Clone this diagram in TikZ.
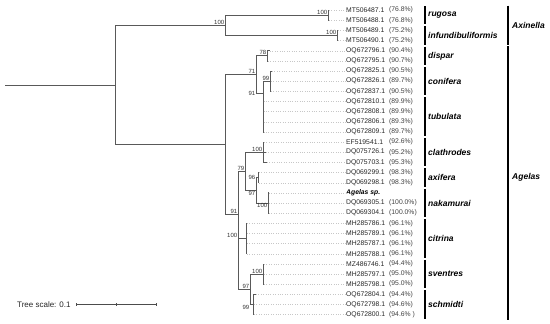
\documentclass[tikz,border=0pt]{standalone}
\usepackage{fontspec}
\setmainfont{Liberation Sans}
\usetikzlibrary{positioning}
\tikzset{
  branch/.style={draw=black!65, line width=0.8pt},
  leader/.style={draw=black!22, dotted, line width=0.4pt},
  leafid/.style={anchor=west, inner sep=0pt, font=\fontsize{6.8}{7}\selectfont, text=black!85},
  pct/.style={anchor=west, inner sep=0pt, font=\fontsize{6.8}{7}\selectfont, text=black!75},
  support/.style={anchor=south east, inner sep=0.6pt, font=\fontsize{6}{6}\selectfont, text=black!80},
  cladebar/.style={draw=black, line width=1.5pt},
  cladename/.style={anchor=west, inner sep=0pt, font=\fontsize{8.5}{9}\selectfont\bfseries\itshape},
  scaletick/.style={draw=black!70, line width=0.6pt}
}
\begin{document}
\begin{tikzpicture}[x=1pt, y=-10.15pt]
\useasboundingbox (0,-1.0) rectangle (550,30.823);
% internal nodes
\coordinate (root) at (5,7.375);
\coordinate (R) at (115,7.375);
\coordinate (Ax) at (225,1.5);
\coordinate (rug) at (328,0.5);
\coordinate (inf) at (337,2.5);
\coordinate (Ag) at (225,13.25);
\coordinate (n71) at (256,6.35);
\coordinate (dis) at (267,4.5);
\coordinate (n91a) at (263,8.2);
\coordinate (con) at (270,7);
\coordinate (n91b) at (238,20.15);
\coordinate (n79) at (245,15.875);
\coordinate (cla) at (263,14);
\coordinate (n97a) at (256,17.75);
\coordinate (axi) at (258,16.5);
\coordinate (nak) at (268,19);
\coordinate (cit) at (246,22.5);
\coordinate (n97b) at (250,27.5);
\coordinate (sve) at (263,26);
\coordinate (sch) at (253,29);

% leaves
\coordinate (t0) at (329,0);   \node[leafid] (l0) at (346,0) {MT506487.1};   \node[pct] (p0) at (389,0) {(76.8\%)};
\coordinate (t1) at (329,1);   \node[leafid] (l1) at (346,1) {MT506488.1};   \node[pct] (p1) at (389,1) {(76.8\%)};
\coordinate (t2) at (338,2);   \node[leafid] (l2) at (346,2) {MT506489.1};   \node[pct] (p2) at (389,2) {(75.2\%)};
\coordinate (t3) at (338,3);   \node[leafid] (l3) at (346,3) {MT506490.1};   \node[pct] (p3) at (389,3) {(75.2\%)};
\coordinate (t4) at (270,4);   \node[leafid] (l4) at (346,4) {OQ672796.1};   \node[pct] (p4) at (389,4) {(90.4\%)};
\coordinate (t5) at (268,5);   \node[leafid] (l5) at (346,5) {OQ672795.1};   \node[pct] (p5) at (389,5) {(90.7\%)};
\coordinate (t6) at (272,6);   \node[leafid] (l6) at (346,6) {OQ672825.1};   \node[pct] (p6) at (389,6) {(90.5\%)};
\coordinate (t7) at (271,7);   \node[leafid] (l7) at (346,7) {OQ672826.1};   \node[pct] (p7) at (389,7) {(89.7\%)};
\coordinate (t8) at (271,8);   \node[leafid] (l8) at (346,8) {OQ672837.1};   \node[pct] (p8) at (389,8) {(90.5\%)};
\coordinate (t9) at (263.5,9);  \node[leafid] (l9) at (346,9) {OQ672810.1};   \node[pct] (p9) at (389,9) {(89.9\%)};
\coordinate (t10) at (263.5,10); \node[leafid] (l10) at (346,10) {OQ672808.1}; \node[pct] (p10) at (389,10) {(89.9\%)};
\coordinate (t11) at (263.5,11); \node[leafid] (l11) at (346,11) {OQ672806.1}; \node[pct] (p11) at (389,11) {(89.3\%)};
\coordinate (t12) at (263.5,12); \node[leafid] (l12) at (346,12) {OQ672809.1}; \node[pct] (p12) at (389,12) {(89.7\%)};
\coordinate (t13) at (264,13); \node[leafid] (l13) at (346,13) {EF519541.1};  \node[pct] (p13) at (389,13) {(92.6\%)};
\coordinate (t14) at (266,14); \node[leafid] (l14) at (346,14) {DQ075726.1};  \node[pct] (p14) at (389,14) {(95.2\%)};
\coordinate (t15) at (267,15); \node[leafid] (l15) at (346,15) {DQ075703.1};  \node[pct] (p15) at (389,15) {(95.3\%)};
\coordinate (t16) at (259,16); \node[leafid] (l16) at (346,16) {DQ069299.1};  \node[pct] (p16) at (389,16) {(98.3\%)};
\coordinate (t17) at (259,17); \node[leafid] (l17) at (346,17) {DQ069298.1};  \node[pct] (p17) at (389,17) {(98.3\%)};
\coordinate (t18) at (269,18); \node[leafid, font=\fontsize{6.8}{7}\selectfont\bfseries\itshape, text=black] (l18) at (346,18) {Agelas sp.};
\coordinate (t19) at (269,19); \node[leafid] (l19) at (346,19) {DQ069305.1};  \node[pct] (p19) at (389,19) {(100.0\%)};
\coordinate (t20) at (269,20); \node[leafid] (l20) at (346,20) {DQ069304.1};  \node[pct] (p20) at (389,20) {(100.0\%)};
\coordinate (t21) at (247,21); \node[leafid] (l21) at (346,21) {MH285786.1};  \node[pct] (p21) at (389,21) {(96.1\%)};
\coordinate (t22) at (247,22); \node[leafid] (l22) at (346,22) {MH285789.1};  \node[pct] (p22) at (389,22) {(96.1\%)};
\coordinate (t23) at (247,23); \node[leafid] (l23) at (346,23) {MH285787.1};  \node[pct] (p23) at (389,23) {(96.1\%)};
\coordinate (t24) at (247,24); \node[leafid] (l24) at (346,24) {MH285788.1};  \node[pct] (p24) at (389,24) {(96.1\%)};
\coordinate (t25) at (264,25); \node[leafid] (l25) at (346,25) {MZ486746.1};  \node[pct] (p25) at (389,25) {(94.4\%)};
\coordinate (t26) at (264,26); \node[leafid] (l26) at (346,26) {MH285797.1};  \node[pct] (p26) at (389,26) {(95.0\%)};
\coordinate (t27) at (264,27); \node[leafid] (l27) at (346,27) {MH285798.1};  \node[pct] (p27) at (389,27) {(95.0\%)};
\coordinate (t28) at (256,28); \node[leafid] (l28) at (346,28) {OQ672804.1};  \node[pct] (p28) at (389,28) {(94.4\%)};
\coordinate (t29) at (254,29); \node[leafid] (l29) at (346,29) {OQ672798.1};  \node[pct] (p29) at (389,29) {(94.6\%)};
\coordinate (t30) at (254,30); \node[leafid] (l30) at (346,30) {OQ672800.1};  \node[pct] (p30) at (389,30) {(94.6\% )};

% branches
\draw[branch] (root) -- (R);
\foreach \p/\c in {R/Ax, R/Ag, Ax/rug, Ax/inf, Ag/n71, Ag/n91b, n71/dis, n71/n91a, n91a/con,
                   n91b/n79, n91b/cit, n91b/n97b, n79/cla, n79/n97a, n97a/axi, n97a/nak, n97b/sve, n97b/sch}
  \draw[branch] (\p) |- (\c);
\foreach \p/\i in {rug/0, rug/1, inf/2, inf/3, dis/4, dis/5, con/6, con/7, con/8,
                   n91a/9, n91a/10, n91a/11, n91a/12, cla/13, cla/14, cla/15, axi/16, axi/17,
                   nak/18, nak/19, nak/20, cit/21, cit/22, cit/23, cit/24, sve/25, sve/26, sve/27,
                   sch/28, sch/29, sch/30}
  \draw[branch] (\p) |- (t\i);
\foreach \i in {0,...,30}
  \draw[leader] (t\i) -- (l\i.west);

% support values
\node[support] (b1) at (Ax) {100};
\node[support] (b2) at (rug) {100};
\node[support] (b3) at (inf) {100};
\node[support] (b4) at (n71) {71};
\node[support] (b5) at (dis) {78};
\node[support] (b6) at (con) {99};
\node[support, anchor=east] (b7) at (n71 |- n91a) {91};
\node[support] (b8) at (n91b) {91};
\node[support] (b9) at (n79) {79};
\node[support] (b10) at (cla) {100};
\node[support, anchor=east] (b11) at (n97a |- axi) {96};
\node[support, anchor=north east] (b12) at (n97a) {97};
\node[support, anchor=north east] (b13) at (nak) {100};
\node[support] (b14) at (n91b |- cit) {100};
\node[support] (b15) at (n97b) {97};
\node[support] (b16) at (sve) {100};
\node[support, anchor=north east] (b17) at (n97b |- sch) {99};

% clades
\draw[cladebar] (425,-0.4) -- (425,1.4);
\node[cladename] (c1) at (428,0.5) {rugosa};
\draw[cladebar] (425,1.6) -- (425,3.4);
\node[cladename] (c2) at (428,2.5) {infundibuliformis};
\draw[cladebar] (425,3.6) -- (425,5.4);
\node[cladename] (c3) at (428,4.5) {dispar};
\draw[cladebar] (425,5.6) -- (425,8.4);
\node[cladename] (c4) at (428,7) {conifera};
\draw[cladebar] (425,8.6) -- (425,12.4);
\node[cladename] (c5) at (428,10.5) {tubulata};
\draw[cladebar] (425,12.6) -- (425,15.4);
\node[cladename] (c6) at (428,14) {clathrodes};
\draw[cladebar] (425,15.6) -- (425,17.4);
\node[cladename] (c7) at (428,16.5) {axifera};
\draw[cladebar] (425,17.6) -- (425,20.4);
\node[cladename] (c8) at (428,19) {nakamurai};
\draw[cladebar] (425,20.6) -- (425,24.4);
\node[cladename] (c9) at (428,22.5) {citrina};
\draw[cladebar] (425,24.6) -- (425,27.4);
\node[cladename] (c10) at (428,26) {sventres};
\draw[cladebar] (425,27.6) -- (425,30.4);
\node[cladename] (c11) at (428,29) {schmidti};

\draw[cladebar] (508,-0.45) -- (508,3.45);
\node[cladename] (g1) at (512,1.5) {Axinella};
\draw[cladebar] (508,3.55) -- (508,30.5);
\node[cladename] (g2) at (512,16.5) {Agelas};

% scale
\node[anchor=west, inner sep=0pt, font=\fontsize{8}{9}\selectfont, text=black!85] (scl) at (17,29) {Tree scale: 0.1};
\coordinate (sa) at (76,29);
\coordinate (sm) at (116,29);
\coordinate (sb) at (156,29);
\draw[scaletick] (sa) -- (sb);
\foreach \s in {sa, sm, sb}
  \draw[scaletick] ([yshift=-1.2pt]\s) -- ([yshift=1.2pt]\s);
\end{tikzpicture}
\end{document}
